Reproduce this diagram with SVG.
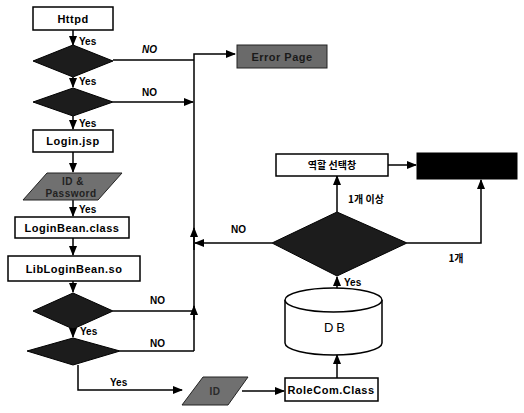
<svg xmlns="http://www.w3.org/2000/svg" width="524" height="413" viewBox="0 0 524 413">
<style>
.box{fill:#fff;stroke:#000;stroke-width:1.5}
.dia{fill:#1c1c1c;stroke:#000;stroke-width:1}
.par{fill:#707070;stroke:#222;stroke-width:1}
.t{font-family:"Liberation Sans",Arial,sans-serif;font-size:11px;font-weight:bold;fill:#000;text-anchor:middle;letter-spacing:0.5px}
.k{font-family:"Noto Sans CJK KR","Liberation Sans",sans-serif;font-size:10px;font-weight:bold;fill:#000;text-anchor:middle}
.lbl{font-family:"Liberation Sans",Arial,sans-serif;font-size:10px;font-weight:bold;fill:#000}
.ln{fill:none;stroke:#000;stroke-width:1.5}
</style>
<defs>
<marker id="a" markerWidth="10" markerHeight="8" refX="9" refY="4" orient="auto" markerUnits="userSpaceOnUse">
<path d="M0,0 L10,4 L0,8 Z" fill="#000"/>
</marker>
</defs>
<rect width="524" height="413" fill="#fff"/>
<g id="connectors">
<line class="ln" x1="73" y1="30" x2="73" y2="45" marker-end="url(#a)"/>
<line class="ln" x1="73" y1="77" x2="73" y2="87" marker-end="url(#a)"/>
<line class="ln" x1="73" y1="116" x2="73" y2="129" marker-end="url(#a)"/>
<line class="ln" x1="73" y1="152" x2="73" y2="172" marker-end="url(#a)"/>
<line class="ln" x1="73" y1="200" x2="73" y2="216" marker-end="url(#a)"/>
<line class="ln" x1="73" y1="238" x2="73" y2="255" marker-end="url(#a)"/>
<line class="ln" x1="73" y1="281" x2="73" y2="292" marker-end="url(#a)"/>
<line class="ln" x1="73" y1="329" x2="73" y2="337" marker-end="url(#a)"/>
<polyline class="ln" points="113,60 194,60"/>
<polyline class="ln" points="194,351 194,54 235,54" marker-end="url(#a)"/>
<line class="ln" x1="113" y1="102" x2="193" y2="102" marker-end="url(#a)"/>
<line class="ln" x1="194" y1="250" x2="194" y2="228" marker-end="url(#a)"/>
<line class="ln" x1="194" y1="320" x2="194" y2="306" marker-end="url(#a)"/>
<line class="ln" x1="113" y1="311" x2="194" y2="311"/>
<line class="ln" x1="120" y1="351" x2="194" y2="351"/>
<line class="ln" x1="272" y1="243" x2="195" y2="243" marker-end="url(#a)"/>
<polyline class="ln" points="78,365 78,390 182,390" marker-end="url(#a)"/>
<line class="ln" x1="242" y1="391" x2="284" y2="391" marker-end="url(#a)"/>
<line class="ln" x1="337" y1="378" x2="337" y2="355" marker-end="url(#a)"/>
<line class="ln" x1="337" y1="290" x2="337" y2="277" marker-end="url(#a)"/>
<line class="ln" x1="337" y1="212" x2="337" y2="176" marker-end="url(#a)"/>
<line class="ln" x1="388" y1="165" x2="416" y2="165" marker-end="url(#a)"/>
<polyline class="ln" points="407,243 481,243 481,180" marker-end="url(#a)"/>
<text class="lbl" x="79" y="45">Yes</text>
<text class="lbl" x="79" y="85">Yes</text>
<text class="lbl" x="79" y="127">Yes</text>
<text class="lbl" x="79" y="213">Yes</text>
<text class="lbl" x="80" y="335">Yes</text>
<text class="lbl" x="110" y="386">Yes</text>
<text class="lbl" x="344" y="286">Yes</text>
<text class="lbl" x="142" y="53" font-style="italic">NO</text>
<text class="lbl" x="142" y="96">NO</text>
<text class="lbl" x="150" y="304">NO</text>
<text class="lbl" x="150" y="347">NO</text>
<text class="lbl" x="231" y="233">NO</text>
<text class="k" x="366" y="203">1개 이상</text>
<text class="k" x="456" y="262">1개</text>
</g>
<g id="httpd"><rect class="box" x="33" y="7" width="80" height="23"/><text class="t" x="73" y="23">Httpd</text></g>
<g id="dec1"><polygon class="dia" points="73,45 113,61 73,77 33,61"/></g>
<g id="dec2"><polygon class="dia" points="73,88 113,102 73,116 33,102"/></g>
<g id="error"><rect x="237" y="45" width="90" height="23" fill="#6a6a6a" stroke="#222"/><text class="t" x="282" y="61" fill="#111" style="fill:#1a1a1a">Error Page</text></g>
<g id="login"><rect class="box" x="33" y="130" width="80" height="22"/><text class="t" x="73" y="145">Login.jsp</text></g>
<g id="idpw"><polygon class="par" points="47,173 122,173 98,200 23,200"/><text class="t" x="73" y="185" style="fill:#222;font-size:10px">ID &amp;</text><text class="t" x="71" y="197" style="fill:#222;font-size:10px">Password</text></g>
<g id="loginbean"><rect class="box" x="15" y="217" width="114" height="21"/><text class="t" x="72" y="232">LoginBean.class</text></g>
<g id="libloginbean"><rect class="box" x="8" y="256" width="132" height="25"/><text class="t" x="74" y="273">LibLoginBean.so</text></g>
<g id="dec3"><polygon class="dia" points="73,293 113,311 73,329 33,311"/></g>
<g id="dec4"><polygon class="dia" points="73,338 120,351 73,365 27,351"/></g>
<g id="idbox"><polygon class="par" points="203,377 248,377 228,405 182,405"/><text class="t" x="215" y="395" style="fill:#2a2a2a;font-size:10px">ID</text></g>
<g id="rolecom"><rect class="box" x="285" y="378" width="93" height="23"/><text class="t" x="331" y="394">RoleCom.Class</text></g>
<g id="db"><path d="M285,300 L285,343 A48.5,12 0 0 0 382,343 L382,300" fill="#fff" stroke="#000" stroke-width="1.5"/><ellipse cx="333.5" cy="300" rx="48.5" ry="12" fill="#fff" stroke="#000" stroke-width="1.5"/><text class="t" x="336" y="332" style="font-size:13px;letter-spacing:3px;font-weight:normal">DB</text></g>
<g id="dec5"><polygon class="dia" points="337,212 407,243 337,276 272,243"/></g>
<g id="role"><rect class="box" x="276" y="154" width="112" height="22"/><text class="k" x="332" y="169">역할 선택창</text></g>
<g id="black"><rect x="417" y="153" width="100" height="26" fill="#000" stroke="#000"/></g>
</svg>
